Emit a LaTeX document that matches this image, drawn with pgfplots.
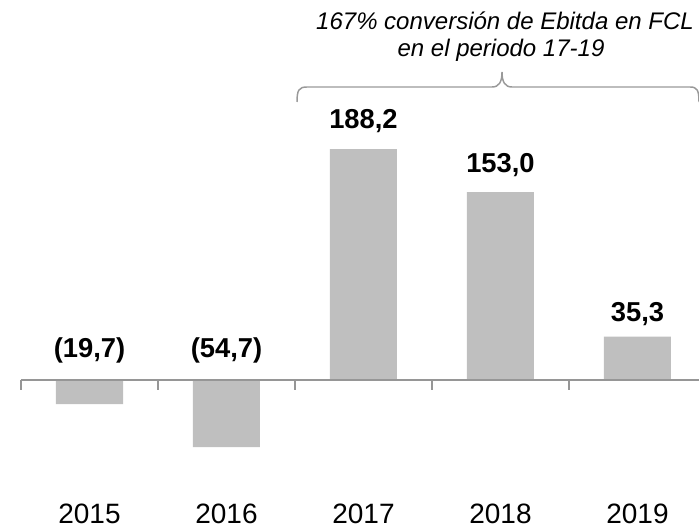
\documentclass[border=0pt]{standalone}
\usepackage{pgfplots}
\pgfplotsset{compat=1.18}
\usepackage{fontspec}
\setmainfont{Liberation Sans}
\definecolor{barc}{HTML}{BFBFBF}
\definecolor{axc}{HTML}{969696}
\definecolor{brc}{HTML}{999999}
\begin{document}
\begin{tikzpicture}[x=0.75pt,y=0.75pt]
\useasboundingbox (0,0) rectangle (699,525);
\begin{axis}[
  at={(15.75pt,1.5pt)}, anchor=south west,
  scale only axis,
  width=508.5pt, height=337.35pt,
  xmin=-0.5, xmax=4.449,
  ymin=-116.5, ymax=250,
  clip=false,
  axis line style={draw=none},
  ytick=\empty,
  xtick={0,1,2,3,4},
  xticklabels={2015,2016,2017,2018,2019},
  major tick length=0pt,
  xticklabel style={anchor=base, inner sep=0pt, font=\fontsize{21}{25}\selectfont},
  ybar, bar width=50.25pt,
]
\addplot[fill=barc, draw=none] coordinates {(0,-19.7) (1,-54.7) (2,188.2) (3,153.0) (4,35.3)};
\draw[axc, line width=1.1pt] (axis cs:-0.5,0) -- (axis cs:4.449,0);
\pgfplotsinvokeforeach{-0.5,0.5,1.5,2.5,3.5}{
  \draw[axc, line width=1.1pt] (axis cs:#1,0) -- (axis cs:#1,-8.2);
}
\begin{scope}[every node/.style={anchor=base, inner sep=0pt, font=\bfseries\fontsize{20.5}{24}\selectfont}]
\node at (axis cs:0,18.7) {(19,7)};
\node at (axis cs:1,18.7) {(54,7)};
\node at (axis cs:2,205.3) {188,2};
\node at (axis cs:3,168.7) {153,0};
\node at (axis cs:4,47.5) {35,3};
\end{scope}
\end{axis}
\draw[brc, line width=1.1pt] (297,423) .. controls (297,435) and (299,438) .. (307,438) -- (492,438)
  .. controls (499,438) and (502,443) .. (502,453)
  .. controls (502,443) and (505,438) .. (512,438) -- (690,438)
  .. controls (697,438) and (699,435) .. (699,423);
\node[anchor=base, inner sep=0pt, font=\itshape\fontsize{18}{22}\selectfont] at (505,495) {167\% conversión de Ebitda en FCL};
\node[anchor=base, inner sep=0pt, font=\itshape\fontsize{18}{22}\selectfont] at (501,468) {en el periodo 17-19};
\end{tikzpicture}
\end{document}
